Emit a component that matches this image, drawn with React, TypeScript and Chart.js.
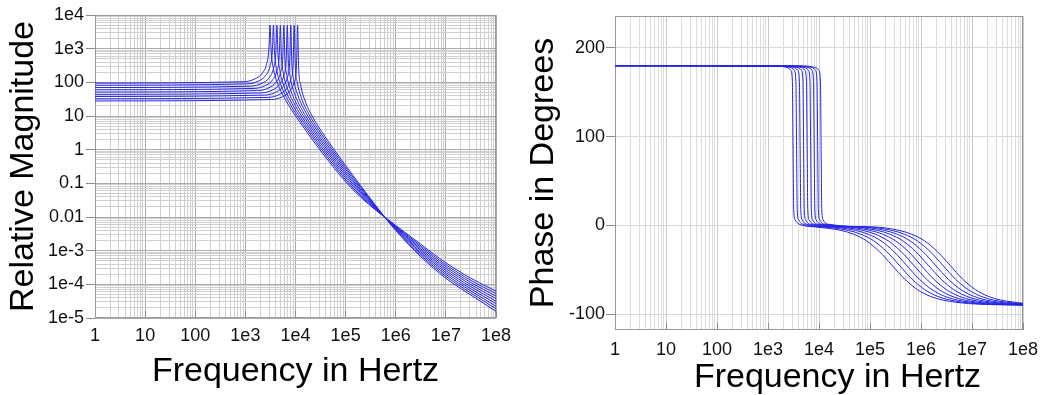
import React, { useEffect, useRef } from 'react';
import { Chart, registerables } from 'chart.js';

Chart.register(...registerables);

type Pair = [number, number];

// ---------- tick labels ----------
const freqDecades = [1, 10, 100, 1e3, 1e4, 1e5, 1e6, 1e7, 1e8];
const freqTickLabels = ['1', '10', '100', '1e3', '1e4', '1e5', '1e6', '1e7', '1e8'];
const magDecades = [1e-5, 1e-4, 1e-3, 0.01, 0.1, 1, 10, 100, 1e3, 1e4];
const magTickLabels = ['1e-5', '1e-4', '1e-3', '0.01', '0.1', '1', '10', '100', '1e3', '1e4'];
const phaseTickValues = [-100, 0, 100, 200];
const phaseTickLabels = ['-100', '0', '100', '200'];

// ---------- magnitude curves: [frequency Hz, relative magnitude] ----------
const mag0: Pair[] = [[1, 95], [930, 104.4], [1550, 126.6], [2170, 186.3], [2635, 342], [2945, 975], [3100, 5000], [3255, 927], [3565, 294.5], [4340, 99], [6200, 31.7], [9300, 11.9], [1e5, 0.1109], [2e5, 0.0389], [4e5, 0.01585], [1e6, 0.005623], [3.16e6, 0.001549], [1e7, 4.365e-4], [3.16e7, 1.514e-4], [1e8, 6.31e-5]];
const mag1: Pair[] = [[1, 82], [1089, 90.1], [1815, 109.3], [2541, 160.8], [3086, 295], [3449, 841], [3630, 5000], [3812, 800], [4175, 254], [5082, 85.4], [7260, 27.3], [10890, 10.25], [1e5, 0.1275], [2e5, 0.04291], [4e5, 0.01648], [1e6, 0.005385], [3.16e6, 0.001392], [1e7, 3.823e-4], [3.16e7, 1.311e-4], [1e8, 5.309e-5]];
const mag2: Pair[] = [[1, 70], [1278, 76.9], [2130, 93.3], [2982, 137.3], [3621, 252], [4047, 718], [4260, 5000], [4473, 683], [4899, 217], [5964, 72.9], [8520, 23.3], [12780, 8.75], [1e5, 0.1466], [2e5, 0.04732], [4e5, 0.01713], [1e6, 0.005158], [3.16e6, 0.001252], [1e7, 3.35e-4], [3.16e7, 1.135e-4], [1e8, 4.467e-5]];
const mag3: Pair[] = [[1, 60], [1497, 65.9], [2495, 80], [3493, 117.7], [4242, 216], [4741, 616], [4990, 5000], [5240, 586], [5739, 186], [6986, 62.5], [9980, 20], [14970, 7.5], [1e5, 0.1686], [2e5, 0.05219], [4e5, 0.01781], [1e6, 0.00494], [3.16e6, 0.001125], [1e7, 2.934e-4], [3.16e7, 9.83e-5], [1e8, 3.758e-5]];
const mag4: Pair[] = [[1, 51.5], [1755, 56.6], [2925, 68.7], [4095, 101], [4973, 185.4], [5558, 528], [5850, 5000], [6143, 503], [6728, 159.7], [8190, 53.7], [11700, 17.2], [17550, 6.44], [1e5, 0.1938], [2e5, 0.05754], [4e5, 0.01852], [1e6, 0.004732], [3.16e6, 0.001012], [1e7, 2.57e-4], [3.16e7, 8.51e-5], [1e8, 3.162e-5]];
const mag5: Pair[] = [[1, 44], [2058, 48.4], [3430, 58.7], [4802, 86.3], [5831, 158.4], [6517, 451], [6860, 5000], [7203, 429], [7889, 136.4], [9604, 45.8], [13720, 14.7], [20580, 5.5], [1e5, 0.2228], [2e5, 0.06346], [4e5, 0.01925], [1e6, 0.004532], [3.16e6, 9.094e-4], [1e7, 2.251e-4], [3.16e7, 7.371e-5], [1e8, 2.661e-5]];
const mag6: Pair[] = [[1, 38], [2412, 41.8], [4020, 50.7], [5628, 74.5], [6834, 136.8], [7638, 390], [8040, 5000], [8442, 371], [9246, 117.8], [11256, 39.6], [16080, 12.7], [24120, 4.75], [1e5, 0.2562], [2e5, 0.07], [4e5, 0.02001], [1e6, 0.004341], [3.16e6, 8.177e-4], [1e7, 1.972e-4], [3.16e7, 6.383e-5], [1e8, 2.239e-5]];
const mag7: Pair[] = [[1, 32.5], [2826, 35.7], [4710, 43.3], [6594, 63.7], [8007, 117], [8949, 333], [9420, 5000], [9891, 317], [10833, 100.8], [13188, 33.9], [18840, 10.8], [28260, 4.06], [1e5, 0.2945], [2e5, 0.07718], [4e5, 0.02081], [1e6, 0.004157], [3.16e6, 7.348e-4], [1e7, 1.728e-4], [3.16e7, 5.527e-5], [1e8, 1.884e-5]];
const mag8: Pair[] = [[1, 28], [3300, 30.8], [5500, 37.3], [7700, 54.9], [9350, 100.8], [10450, 287], [11000, 5000], [11550, 273], [12650, 86.8], [15400, 29.2], [22000, 9.33], [33000, 3.5], [1e5, 0.3388], [2e5, 0.08511], [4e5, 0.02163], [1e6, 0.003981], [3.16e6, 6.607e-4], [1e7, 1.514e-4], [3.16e7, 4.786e-5], [1e8, 1.585e-5]];

// ---------- phase curves: [frequency Hz, degrees] ----------
const ph0: Pair[] = [[1, 180], [1550, 179.5], [2480, 177.5], [2790, 175], [3007, 162], [3100, 90], [3193, 18], [3410, 6], [4030, 1.5], [8540, -1.8], [27000, -5.7], [48200, -10.1], [85400, -17.5], [151700, -29.4], [270000, -45], [480600, -60.7], [853200, -72.5], [1512000, -80], [2700000, -84.3], [8530000, -88.2], [27000000, -89.4], [1e8, -89.8]];
const ph1: Pair[] = [[1, 180], [1815, 179.5], [2904, 177.5], [3267, 175], [3521, 162], [3630, 90], [3739, 18], [3993, 6], [4719, 1.5], [11870, -1.8], [37500, -5.7], [66960, -10.1], [118700, -17.5], [210700, -29.4], [375000, -45], [667500, -60.7], [1185000, -72.5], [2100000, -80], [3750000, -84.3], [11850000, -88.2], [37500000, -89.4], [1e8, -89.8]];
const ph2: Pair[] = [[1, 180], [2130, 179.5], [3408, 177.5], [3834, 175], [4132, 162], [4260, 90], [4388, 18], [4686, 6], [5538, 1.5], [16460, -1.8], [52000, -5.7], [92860, -10.1], [164600, -17.5], [292100, -29.4], [520000, -45], [925600, -60.7], [1643000, -72.5], [2912000, -80], [5200000, -84.3], [16430000, -88.2], [52000000, -89.4], [1e8, -89.7]];
const ph3: Pair[] = [[1, 180], [2495, 179.5], [3992, 177.5], [4491, 175], [4840, 162], [4990, 90], [5140, 18], [5489, 6], [6487, 1.5], [22780, -1.8], [72000, -5.7], [128600, -10.1], [227800, -17.5], [404500, -29.4], [720000, -45], [1282000, -60.7], [2275000, -72.5], [4032000, -80], [7200000, -84.3], [22750000, -88.2], [72000000, -89.4], [1e8, -89.6]];
const ph4: Pair[] = [[1, 180], [2925, 179.5], [4680, 177.5], [5265, 175], [5675, 162], [5850, 90], [6026, 18], [6435, 6], [7605, 1.5], [31620, -1.8], [100000, -5.7], [178600, -10.1], [316200, -17.5], [561800, -29.4], [1000000, -45], [1780000, -60.7], [3160000, -72.5], [5600000, -80], [10000000, -84.3], [31600000, -88.2], [1e8, -89.4]];
const ph5: Pair[] = [[1, 180], [3430, 179.5], [5488, 177.5], [6174, 175], [6654, 162], [6860, 90], [7066, 18], [7546, 6], [8918, 1.5], [43990, -1.8], [139000, -5.7], [248200, -10.1], [439900, -17.5], [780900, -29.4], [1390000, -45], [2474000, -60.7], [4392000, -72.5], [7784000, -80], [13900000, -84.3], [43920000, -88.2], [1e8, -89.2]];
const ph6: Pair[] = [[1, 180], [4020, 179.5], [6432, 177.5], [7236, 175], [7799, 162], [8040, 90], [8281, 18], [8844, 6], [10452, 1.5], [60760, -1.8], [192000, -5.7], [342900, -10.1], [607600, -17.5], [1079000, -29.4], [1920000, -45], [3418000, -60.7], [6067000, -72.5], [10750000, -80], [19200000, -84.3], [60670000, -88.2], [1e8, -88.9]];
const ph7: Pair[] = [[1, 180], [4710, 179.5], [7536, 177.5], [8478, 175], [9137, 162], [9420, 90], [9703, 18], [10362, 6], [12246, 1.5], [84490, -1.8], [267000, -5.7], [476800, -10.1], [844900, -17.5], [1500000, -29.4], [2670000, -45], [4753000, -60.7], [8437000, -72.5], [14950000, -80], [26700000, -84.3], [84370000, -88.2], [1e8, -88.5]];
const ph8: Pair[] = [[1, 180], [5500, 179.5], [8800, 177.5], [9900, 175], [10670, 162], [11000, 90], [11330, 18], [12100, 6], [14300, 1.5], [117100, -1.8], [370000, -5.7], [660700, -10.1], [1171000, -17.5], [2079000, -29.4], [3700000, -45], [6586000, -60.7], [11690000, -72.5], [20720000, -80], [37000000, -84.3], [1e8, -87.9]];

const magnitudeCurves = [mag0, mag1, mag2, mag3, mag4, mag5, mag6, mag7, mag8];
const phaseCurves = [ph0, ph1, ph2, ph3, ph4, ph5, ph6, ph7, ph8];

// ---------- styling ----------
const FONT = '"Liberation Sans", Arial, Helvetica, sans-serif';
const LINE_COLOR = 'rgb(36,36,228)';
const TICK_COLOR = '#8a8a8a';
const FRAME_COLOR = '#9a9a9a';

function logGridTicks(min: number, max: number) {
  const out: { value: number; major: boolean }[] = [];
  const e0 = Math.round(Math.log10(min));
  const e1 = Math.round(Math.log10(max));
  for (let e = e0; e <= e1; e++) {
    for (let m = 1; m <= 9; m++) {
      const v = parseFloat((m * Math.pow(10, e)).toPrecision(6));
      if (v > max * 1.0001) break;
      out.push({ value: v, major: m === 1 });
    }
  }
  return out;
}

function decadeLabel(decades: number[], labels: string[]) {
  return (value: any) => {
    const v = Number(value);
    const i = decades.findIndex((d) => Math.abs(Math.log10(d) - Math.log10(v)) < 1e-6);
    return i >= 0 ? labels[i] : '';
  };
}

const framePlugin = {
  id: 'frame',
  beforeDatasetsDraw(chart: any) {
    const { ctx, chartArea } = chart;
    const l = Math.round(chartArea.left) + 0.5;
    const t = Math.round(chartArea.top) + 0.5;
    const r = Math.round(chartArea.right) - 0.5;
    const b = Math.round(chartArea.bottom) - 0.5;
    ctx.save();
    ctx.strokeStyle = FRAME_COLOR;
    ctx.lineWidth = 1;
    ctx.strokeRect(l, t, r - l, b - t);
    ctx.restore();
  },
};

function makeDatasets(curves: Pair[][]) {
  return curves.map((c) => ({
    data: c.map(([x, y]) => ({ x, y })),
    borderColor: LINE_COLOR,
    borderWidth: 1,
    pointRadius: 0,
    fill: false,
    cubicInterpolationMode: 'monotone' as const,
  }));
}

function logXScale(opts: { height: number; padding: number; majorColor: string; minorColor: string; title: boolean }) {
  const gridTicks = logGridTicks(1, 1e8);
  return {
    type: 'logarithmic',
    position: 'bottom',
    min: 1,
    max: 1e8,
    afterBuildTicks: (s: any) => { s.ticks = gridTicks.map((t) => ({ ...t })); },
    afterFit: (s: any) => {
      s.height = opts.height;
      s.paddingLeft = 0;
      s.paddingRight = 0;
    },
    border: { display: false },
    grid: {
      color: (c: any) => (c.tick && c.tick.major ? opts.majorColor : opts.minorColor),
      lineWidth: 1,
      drawTicks: true,
      tickLength: -7,
      tickColor: (c: any) => (c.tick && c.tick.major ? TICK_COLOR : 'rgba(0,0,0,0)'),
    },
    ticks: {
      autoSkip: false,
      maxRotation: 0,
      minRotation: 0,
      padding: opts.padding,
      color: '#111',
      font: { family: FONT, size: 18 },
      callback: decadeLabel(freqDecades, freqTickLabels),
    },
    title: {
      display: opts.title,
      text: 'Frequency in Hertz',
      color: '#000',
      font: { family: FONT, size: 34, lineHeight: 1.2 },
      padding: { top: 0, bottom: 3 },
    },
  };
}

function MagnitudeChart() {
  const ref = useRef<HTMLCanvasElement | null>(null);
  useEffect(() => {
    if (!ref.current) return;
    const yGrid = logGridTicks(1e-5, 1e4);
    const chart = new Chart(ref.current, {
      type: 'line',
      data: { datasets: makeDatasets(magnitudeCurves) as any },
      options: {
        animation: false,
        responsive: false,
        maintainAspectRatio: false,
        events: [],
        layout: { padding: { left: 0, right: 24, top: 15, bottom: 0 } },
        plugins: { legend: { display: false }, tooltip: { enabled: false } },
        scales: {
          x: logXScale({ height: 77, padding: 14, majorColor: '#acacac', minorColor: '#d0d0d0', title: true }) as any,
          y: {
            type: 'logarithmic',
            position: 'left',
            min: 1e-5,
            max: 1e4,
            afterBuildTicks: (s: any) => { s.ticks = yGrid.map((t) => ({ ...t })); },
            afterFit: (s: any) => {
              s.width = 95;
              s.paddingTop = 0;
              s.paddingBottom = 0;
            },
            border: { display: false },
            grid: {
              color: (c: any) => (c.tick && c.tick.major ? '#acacac' : '#d0d0d0'),
              lineWidth: 1,
              drawTicks: true,
              tickLength: 9,
              tickColor: (c: any) => (c.tick && c.tick.major ? TICK_COLOR : 'rgba(0,0,0,0)'),
            },
            ticks: {
              autoSkip: false,
              padding: 2,
              color: '#111',
              font: { family: FONT, size: 18 },
              callback: decadeLabel(magDecades, magTickLabels),
            },
            title: {
              display: true,
              text: 'Relative Magnitude',
              color: '#000',
              font: { family: FONT, size: 34, lineHeight: 1.2 },
              padding: { top: 3, bottom: 0 },
            },
          } as any,
        },
      },
      plugins: [framePlugin],
    });
    return () => chart.destroy();
  }, []);
  return <canvas ref={ref} width={520} height={395} style={{ position: 'absolute', left: 0, top: 0 }} />;
}

function PhaseChart() {
  const ref = useRef<HTMLCanvasElement | null>(null);
  useEffect(() => {
    if (!ref.current) return;
    const xTitlePlugin = {
      id: 'xTitle',
      afterDraw(chart: any) {
        const { ctx } = chart;
        ctx.save();
        ctx.fillStyle = '#000';
        ctx.font = `34px ${FONT}`;
        ctx.textAlign = 'center';
        ctx.textBaseline = 'middle';
        ctx.fillText('Frequency in Hertz', 317.5, 377.5);
        ctx.restore();
      },
    };
    const chart = new Chart(ref.current, {
      type: 'line',
      data: { datasets: makeDatasets(phaseCurves) as any },
      options: {
        animation: false,
        responsive: false,
        maintainAspectRatio: false,
        events: [],
        layout: { padding: { left: 0, right: 28, top: 16, bottom: 0 } },
        plugins: { legend: { display: false }, tooltip: { enabled: false } },
        scales: {
          x: logXScale({ height: 65, padding: 16, majorColor: '#cacaca', minorColor: '#dcdcdc', title: false }) as any,
          y: {
            type: 'linear',
            position: 'left',
            min: -118,
            max: 236,
            afterBuildTicks: (s: any) => { s.ticks = phaseTickValues.map((v) => ({ value: v })); },
            afterFit: (s: any) => {
              s.width = 95;
              s.paddingTop = 0;
              s.paddingBottom = 0;
            },
            border: { display: false },
            grid: {
              color: '#d8d8d8',
              lineWidth: 1,
              drawTicks: true,
              tickLength: 9,
              tickColor: TICK_COLOR,
            },
            ticks: {
              autoSkip: false,
              padding: 1,
              color: '#111',
              font: { family: FONT, size: 18 },
              callback: (value: any) => {
                const i = phaseTickValues.indexOf(Number(value));
                return i >= 0 ? phaseTickLabels[i] : '';
              },
            },
            title: {
              display: true,
              text: 'Phase in Degrees',
              color: '#000',
              font: { family: FONT, size: 34, lineHeight: 1.2 },
              padding: { top: 3, bottom: 0 },
            },
          } as any,
        },
      },
      plugins: [framePlugin, xTitlePlugin],
    });
    return () => chart.destroy();
  }, []);
  return <canvas ref={ref} width={531} height={395} style={{ position: 'absolute', left: 520, top: 0 }} />;
}

export default function App() {
  return (
    <div style={{ position: 'absolute', left: 0, top: 0, width: 1051, height: 395, background: '#fff', overflow: 'hidden' }}>
      <MagnitudeChart />
      <PhaseChart />
    </div>
  );
}
